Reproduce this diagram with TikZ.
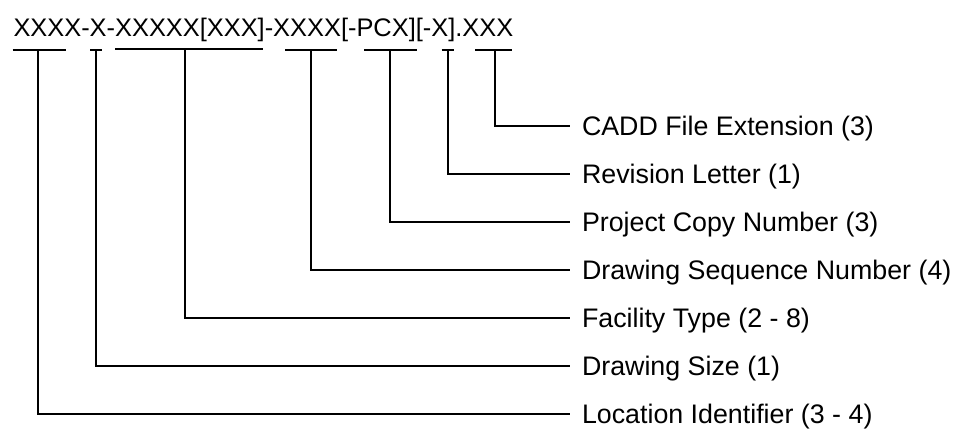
\documentclass[tikz,border=0pt]{standalone}
\usepackage{fontspec}
\setmainfont{Liberation Sans}
\usepackage{tikz}

\begin{document}
\begin{tikzpicture}[x=0.5pt,y=-0.5pt,line width=1pt,
	code/.style={anchor=base west,inner sep=0pt,font=\fontsize{12.7pt}{15pt}\selectfont},
	lbl/.style={anchor=west,inner sep=0pt,outer xsep=6pt,text height=9.6pt,text depth=0pt,font=\fontsize{13.4pt}{16pt}\selectfont}]
	\useasboundingbox (0,0) rectangle (957,428);
	\node[code] (name) at (12.5,36) {XXXX-X-XXXXX[XXX]-XXXX[-PCX][-X].XXX};
	\draw (12.5,50) -- (66,50);
	\draw (90,50) -- (102,50);
	\draw (115,48.5) -- (263,48.5);
	\draw (285,50) -- (336.5,50);
	\draw (364,50) -- (416.5,50);
	\draw (441.5,50) -- (453.5,50);
	\draw (475,50) -- (512,50);
	\coordinate (loc top) at (38,50);
	\coordinate (size top) at (96,50);
	\coordinate (fac top) at (184.5,48.5);
	\coordinate (seq top) at (311,50);
	\coordinate (copy top) at (390,50);
	\coordinate (rev top) at (448,50);
	\coordinate (ext top) at (495,50);
	\node[lbl] (ext) at (570,126) {CADD File Extension (3)};
	\node[lbl] (rev) at (570,174) {Revision Letter (1)};
	\node[lbl] (copy) at (570,222) {Project Copy Number (3)};
	\node[lbl] (seq) at (570,270) {Drawing Sequence Number (4)};
	\node[lbl] (fac) at (570,318) {Facility Type (2 - 8)};
	\node[lbl] (size) at (570,366) {Drawing Size (1)};
	\node[lbl] (loc) at (570,414) {Location Identifier (3 - 4)};
	\draw (ext top) |- (ext.west);
	\draw (rev top) |- (rev.west);
	\draw (copy top) |- (copy.west);
	\draw (seq top) |- (seq.west);
	\draw (fac top) |- (fac.west);
	\draw (size top) |- (size.west);
	\draw (loc top) |- (loc.west);
\end{tikzpicture}
\end{document}
